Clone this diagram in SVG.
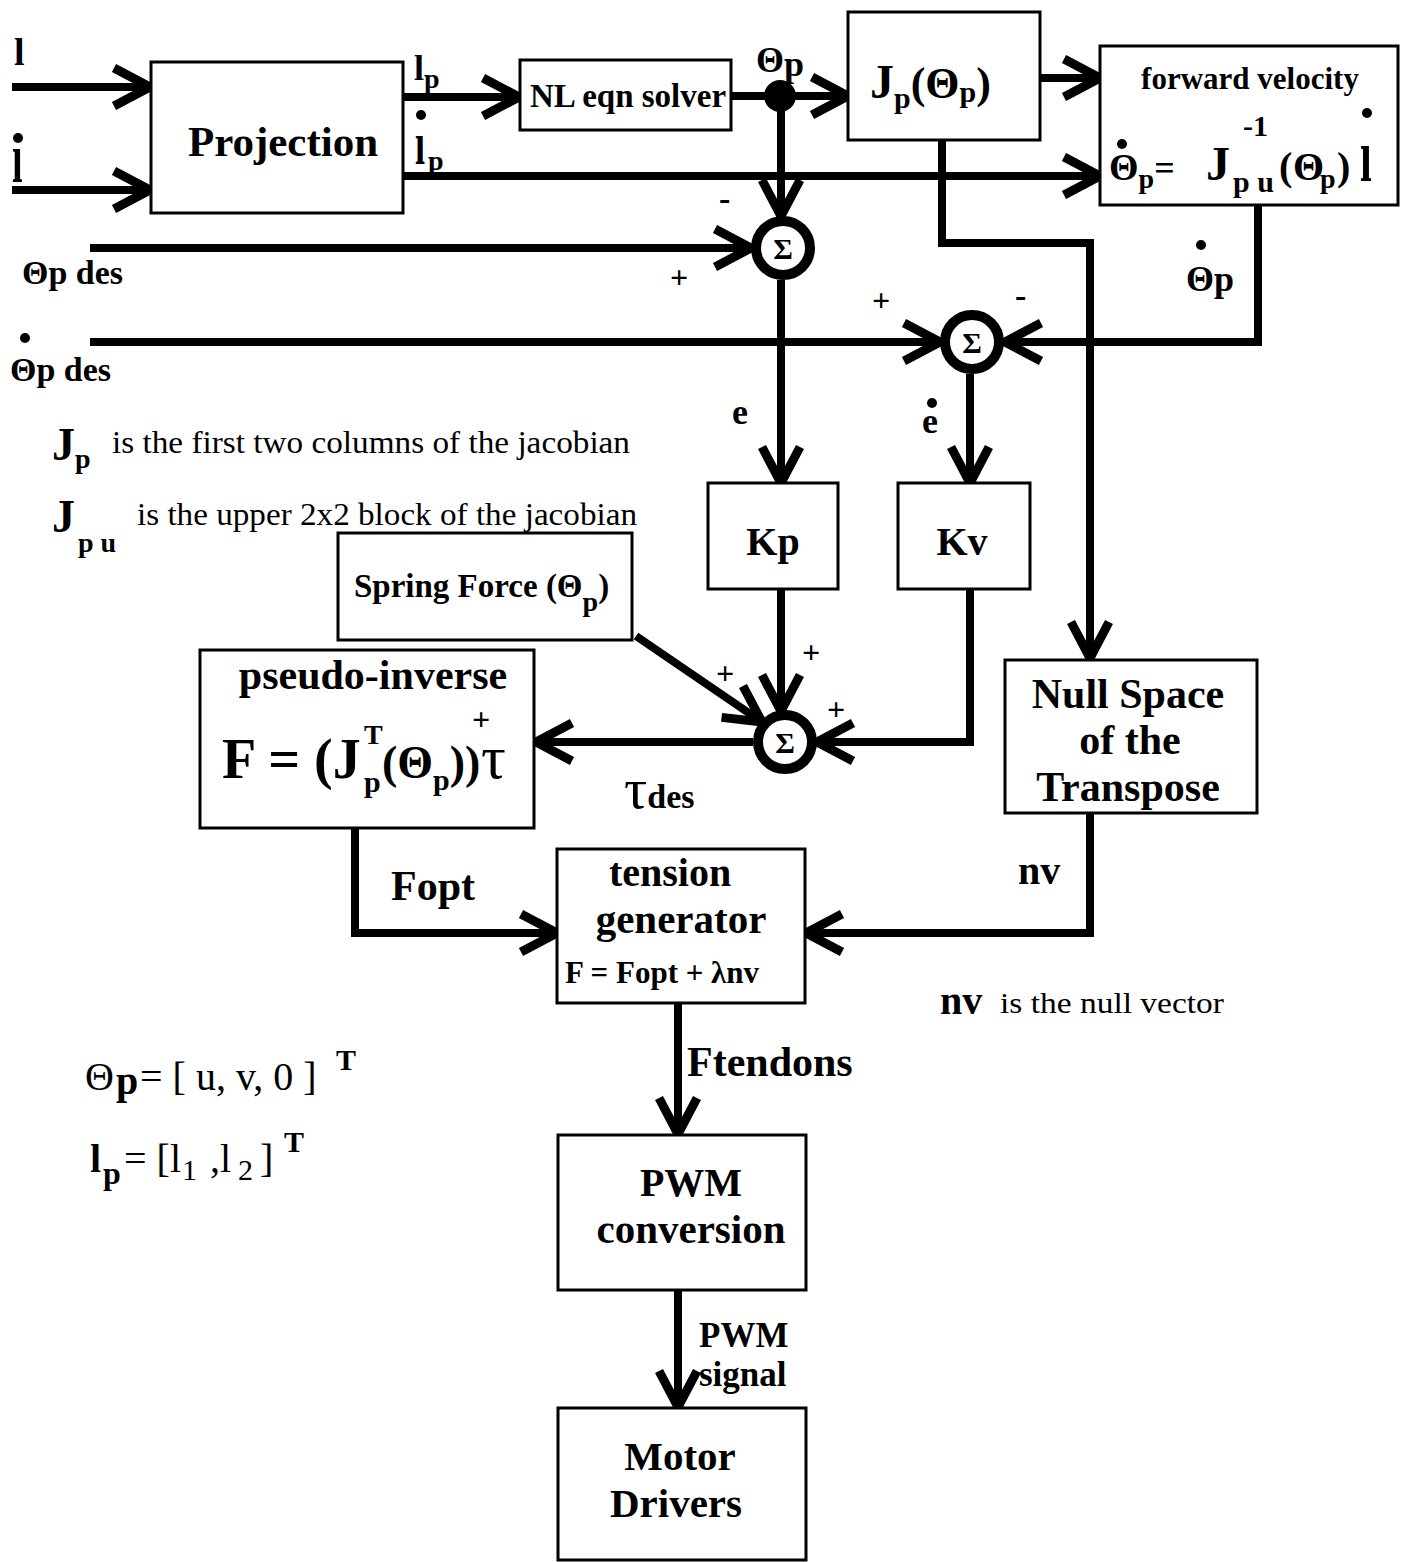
<svg xmlns="http://www.w3.org/2000/svg" width="1408" height="1562" viewBox="0 0 1408 1562">
<style>
text{font-family:"Liberation Serif","Times New Roman",serif;font-weight:bold;fill:#000}
.r{font-weight:normal}
.box{fill:#fff;stroke:#000;stroke-width:3}
.w{fill:none;stroke:#000;stroke-width:8;stroke-linejoin:miter}
.sum{fill:#fff;stroke:#000;stroke-width:10}
.c{text-anchor:middle}
</style>
<defs>
<marker id="ah" markerUnits="userSpaceOnUse" viewBox="-50 -30 60 60" markerWidth="60" markerHeight="60" refX="0" refY="0" orient="auto" overflow="visible">
<path d="M-36,-19 L0,0 L-36,19" fill="none" stroke="#000" stroke-width="9"/>
</marker>
</defs>
<rect width="1408" height="1562" fill="#fff"/>

<g id="connectors">
<path class="w" d="M12,87 H150" marker-end="url(#ah)"/>
<path class="w" d="M12,190 H150" marker-end="url(#ah)"/>
<path class="w" d="M403,97 H519" marker-end="url(#ah)"/>
<path class="w" d="M731,96 H848" marker-end="url(#ah)"/>
<path class="w" d="M403,176 H1100" marker-end="url(#ah)"/>
<path class="w" d="M1040,78 H1100" marker-end="url(#ah)"/>
<path class="w" d="M781,96 V216" marker-end="url(#ah)"/>
<path class="w" d="M90,248 H751" marker-end="url(#ah)"/>
<path class="w" d="M90,342 H940" marker-end="url(#ah)"/>
<path class="w" d="M942,140 V243 H1090 V658" marker-end="url(#ah)"/>
<path class="w" d="M1258,205 V342 H1005" marker-end="url(#ah)"/>
<path class="w" d="M781,280 V483" marker-end="url(#ah)"/>
<path class="w" d="M970,374 V483" marker-end="url(#ah)"/>
<path class="w" d="M781,589 V711" marker-end="url(#ah)"/>
<path class="w" d="M636,636 L762,722" marker-end="url(#ah)"/>
<path class="w" d="M970,589 V742 H817" marker-end="url(#ah)"/>
<path class="w" d="M753,742 H536" marker-end="url(#ah)"/>
<path class="w" d="M355,828 V933 H557" marker-end="url(#ah)"/>
<path class="w" d="M1090,813 V933 H806" marker-end="url(#ah)"/>
<path class="w" d="M678,1003 V1134" marker-end="url(#ah)"/>
<path class="w" d="M678,1290 V1407" marker-end="url(#ah)"/>
<circle cx="780" cy="96" r="16" fill="#000"/>
</g>

<g id="labels">
<text x="14" y="65" font-size="38">l</text>
<text transform="translate(12,182) scale(1,1.9)" font-size="38">ı</text>
<circle cx="18" cy="138" r="5" fill="#000"/>
<text x="414" y="80" font-size="36">l<tspan font-size="28" dy="8">p</tspan></text>
<circle cx="421" cy="115" r="5" fill="#000"/>
<text transform="translate(415,164) scale(1,1.7)" font-size="36">ı</text>
<text x="428" y="170" font-size="28">p</text>
<text x="756" y="72" font-size="36">Θ<tspan dy="4">p</tspan></text>
<text x="22" y="284" font-size="34">Θp des</text>
<circle cx="25" cy="338" r="5" fill="#000"/>
<text x="10" y="381" font-size="34">Θp des</text>
<circle cx="1201" cy="245" r="5" fill="#000"/>
<text x="1186" y="291" font-size="36">Θp</text>
<text x="719" y="210" font-size="34">-</text>
<text x="670" y="288" font-size="32">+</text>
<text x="872" y="311" font-size="32">+</text>
<text x="1015" y="307" font-size="34">-</text>
<text x="732" y="424" font-size="36">e</text>
<text x="922" y="433" font-size="36">e</text>
<circle cx="932" cy="403" r="5" fill="#000"/>
<text x="802" y="663" font-size="32">+</text>
<text x="716" y="684" font-size="32">+</text>
<text x="827" y="720" font-size="32">+</text>
<text x="624" y="808" font-size="58" class="r">τ<tspan font-size="34" font-weight="bold">des</tspan></text>
<text x="391" y="900" font-size="42">Fopt</text>
<text x="1018" y="884" font-size="40">nv</text>
<text x="687" y="1076" font-size="42">Ftendons</text>
<text x="699" y="1347" font-size="35">PWM</text>
<text x="699" y="1386" font-size="35">signal</text>
</g>

<g id="projection">
<rect class="box" x="151" y="62" width="252" height="151"/>
<text class="c" x="283" y="156" font-size="43">Projection</text>
</g>
<g id="nl-solver">
<rect class="box" x="520" y="60" width="211" height="70"/>
<text class="c" x="628" y="107" font-size="33">NL eqn solver</text>
</g>
<g id="jp">
<rect class="box" x="848" y="12" width="192" height="128"/>
<text x="870" y="98" font-size="48">J<tspan font-size="30" dy="10">p</tspan><tspan font-size="44" dy="-10">(Θ</tspan><tspan font-size="30" dy="4">p</tspan><tspan font-size="44" dy="-4">)</tspan></text>
</g>
<g id="forward-velocity">
<rect class="box" x="1100" y="46" width="298" height="159"/>
<text class="c" x="1250" y="89" font-size="31">forward velocity</text>
<circle cx="1122" cy="144" r="5" fill="#000"/>
<text x="1109" y="180" font-size="38">Θ<tspan font-size="28" dy="8">p</tspan><tspan font-size="36" dy="-8">=</tspan></text>
<text x="1206" y="180" font-size="48">J</text>
<text x="1233" y="192" font-size="30">p u</text>
<text x="1243" y="136" font-size="30">-1</text>
<text y="180" font-size="40"><tspan x="1279">(</tspan><tspan x="1293">Θ</tspan><tspan x="1320" font-size="28" dy="8">p</tspan><tspan x="1337" dy="-8">)</tspan></text>
<text transform="translate(1360,181) scale(1,1.8)" font-size="42">ı</text>
<circle cx="1367" cy="113" r="5" fill="#000"/>
</g>
<g id="sum1">
<circle class="sum" cx="783" cy="248" r="27"/>
<text class="c" x="783" y="259" font-size="30">Σ</text>
</g>
<g id="sum2">
<circle class="sum" cx="972" cy="342" r="27"/>
<text class="c" x="972" y="353" font-size="30">Σ</text>
</g>
<g id="sum3">
<circle class="sum" cx="785" cy="742" r="27"/>
<text class="c" x="785" y="753" font-size="30">Σ</text>
</g>
<g id="kp">
<rect class="box" x="708" y="483" width="130" height="106"/>
<text class="c" x="773" y="555" font-size="40">Kp</text>
</g>
<g id="kv">
<rect class="box" x="898" y="483" width="132" height="106"/>
<text class="c" x="962" y="555" font-size="40">Kv</text>
</g>
<g id="spring-force">
<rect class="box" x="338" y="533" width="294" height="107"/>
<text x="354" y="597" font-size="33">Spring Force (Θ<tspan font-size="28" dy="14">p</tspan><tspan dy="-14">)</tspan></text>
</g>
<g id="pseudo-inverse">
<rect class="box" x="200" y="650" width="334" height="178"/>
<text class="c" x="373" y="689" font-size="42">pseudo-inverse</text>
<text x="222" y="778" font-size="56">F = (J</text>
<text x="364" y="744" font-size="28">T</text>
<text x="364" y="792" font-size="30">p</text>
<text x="382" y="778" font-size="46">(Θ<tspan font-size="30" dy="12">p</tspan><tspan font-size="46" dy="-12">))</tspan></text>
<text x="472" y="730" font-size="32">+</text>
<text x="481" y="778" font-size="62" class="r">τ</text>
</g>
<g id="null-space">
<rect class="box" x="1005" y="660" width="252" height="153"/>
<text class="c" x="1128" y="708" font-size="42">Null Space</text>
<text class="c" x="1130" y="754" font-size="42">of the</text>
<text class="c" x="1128" y="801" font-size="42">Transpose</text>
</g>
<g id="tension-generator">
<rect class="box" x="557" y="849" width="248" height="154"/>
<text class="c" x="670" y="886" font-size="40">tension</text>
<text class="c" x="681" y="933" font-size="41">generator</text>
<text x="565" y="983" font-size="31">F = Fopt +  λnv</text>
</g>
<g id="pwm-conversion">
<rect class="box" x="558" y="1135" width="248" height="155"/>
<text class="c" x="691" y="1196" font-size="40">PWM</text>
<text class="c" x="691" y="1243" font-size="41">conversion</text>
</g>
<g id="motor-drivers">
<rect class="box" x="558" y="1408" width="248" height="152"/>
<text class="c" x="680" y="1470" font-size="41">Motor</text>
<text class="c" x="676" y="1517" font-size="41">Drivers</text>
</g>

<g id="notes">
<text x="52" y="460" font-size="46">J<tspan font-size="28" dy="8">p</tspan></text>
<text x="112" y="453" font-size="31" class="r" textLength="518" lengthAdjust="spacingAndGlyphs">is the first two columns of the jacobian</text>
<text x="52" y="532" font-size="46">J</text>
<text x="78" y="552" font-size="28">p u</text>
<text x="137" y="525" font-size="31" class="r" textLength="500" lengthAdjust="spacingAndGlyphs">is the upper 2x2 block of the jacobian</text>
<text x="940" y="1014" font-size="40">nv</text>
<text x="1000" y="1013" font-size="30" class="r" textLength="224" lengthAdjust="spacingAndGlyphs">is the null vector</text>
<text y="1090" font-size="40" class="r"><tspan x="85">Θ</tspan><tspan x="116" font-weight="bold" dy="4">p</tspan><tspan x="140" dy="-4">= [ u, v, 0 ]</tspan></text>
<text x="336" y="1070" font-size="30">T</text>
<text y="1172" font-size="40" class="r"><tspan x="90" font-weight="bold">l</tspan><tspan x="103" font-weight="bold" font-size="32" dy="12">p</tspan><tspan x="124" dy="-12">= [l</tspan><tspan x="182" font-size="30" dy="8">1</tspan><tspan x="210" dy="-8">,l</tspan><tspan x="238" font-size="30" dy="8">2</tspan><tspan x="260" dy="-8">]</tspan></text>
<text x="284" y="1152" font-size="30">T</text>
</g>
</svg>
